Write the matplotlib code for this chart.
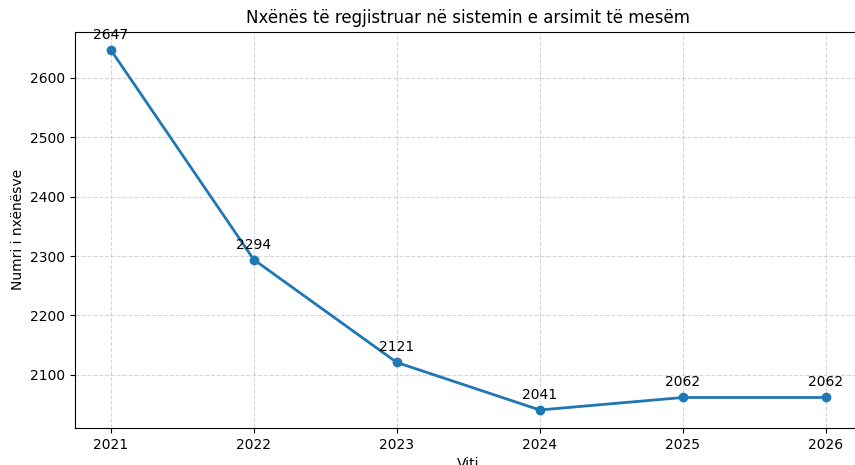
import matplotlib
matplotlib.use("Agg")
import matplotlib.pyplot as plt

# te dhenat
vitet = [2021, 2022, 2023, 2024, 2025, 2026]
nxenes = [2647, 2294, 2121, 2041, 2062, 2062]

fig = plt.figure(figsize=(8.55, 4.65), dpi=100)
# boshtet dalin pak jashte figures (pamja origjinale eshte e prere)
ax = fig.add_axes([0.0877, 0.0796, 0.92, 0.852])

ax.plot(vitet, nxenes, marker="o", linewidth=2, markersize=6, color="#1f77b4")
for x, y in zip(vitet, nxenes):
    ax.annotate(str(y), (x, y), textcoords="offset points", xytext=(0, 8),
                ha="center", fontsize=10)

ax.set_title("Nxënës të regjistruar në sistemin e arsimit të mesëm", fontsize=12)
ax.set_xlabel("Viti", fontsize=10)
ax.set_ylabel("Numri i nxënësve", fontsize=10)
ax.set_xticks(vitet)
ax.grid(True, linestyle="--", alpha=0.5)

fig.savefig("out.png", dpi=100)
